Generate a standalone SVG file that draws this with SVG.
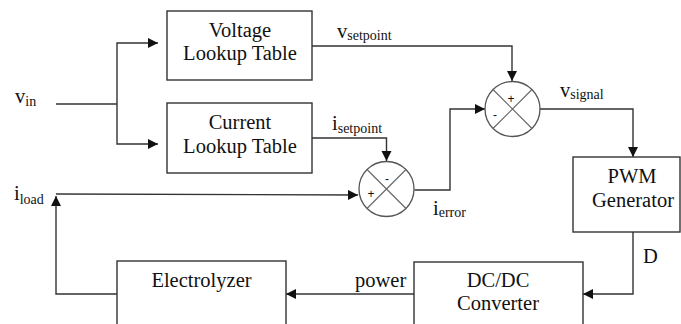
<svg xmlns="http://www.w3.org/2000/svg" width="681" height="324" viewBox="0 0 681 324">
<defs>
<marker id="arr" markerWidth="11" markerHeight="11" refX="10" refY="5" orient="auto" markerUnits="userSpaceOnUse">
<path d="M0,0 L10,5 L0,10 z" fill="#111"/>
</marker>
<style>
.box{fill:#fff;stroke:#333;stroke-width:1.4}
.sum{fill:#fff;stroke:#555;stroke-width:1.3}
.x{stroke:#666;stroke-width:1.1}
.c{fill:none;stroke:#333;stroke-width:1.4}
.c2{fill:none;stroke:#333;stroke-width:1.4;marker-end:url(#arr)}
text{font-family:"Liberation Serif","Times New Roman",serif;fill:#111}
.t{font-size:20.5px;text-anchor:middle}
.l{font-size:20.5px}
.s{font-size:14px}
.pm{font-size:12px;font-family:"Liberation Sans",Arial,sans-serif;text-anchor:middle}
</style>
</defs>
<rect width="681" height="324" fill="#fff"/>
<g id="connectors">
<path class="c" d="M56,104 H117"/>
<path class="c2" d="M117,104 V43 H158"/>
<path class="c2" d="M117,104 V144 H158"/>
<path class="c2" d="M312,46 H512 V81"/>
<path class="c2" d="M312,138 H386.5 V161"/>
<path class="c2" d="M414.5,190 H450 V109 H485"/>
<path class="c2" d="M540,109 H633 V157"/>
<path class="c2" d="M633,232 V294 H583"/>
<path class="c2" d="M414,294 H286"/>
<path class="c2" d="M117,294 H56 V196"/>
<path class="c2" d="M56,194 L358,195"/>
</g>
<g id="voltage_lut">
<rect class="box" x="167" y="11" width="145" height="69"/>
<text class="t" x="240" y="37">Voltage</text>
<text class="t" x="240" y="60">Lookup Table</text>
</g>
<g id="current_lut">
<rect class="box" x="167" y="103" width="145" height="70"/>
<text class="t" x="240" y="129">Current</text>
<text class="t" x="240" y="153">Lookup Table</text>
</g>
<g id="sum_v">
<circle class="sum" cx="512.5" cy="109" r="27.5"/>
<path class="x" d="M493,89.5 L532,128.5 M532,89.5 L493,128.5"/>
<text class="pm" x="511" y="103">+</text>
<text class="pm" x="495" y="119">-</text>
</g>
<g id="sum_i">
<circle class="sum" cx="386.5" cy="189" r="27.5"/>
<path class="x" d="M367,169.5 L406,208.5 M406,169.5 L367,208.5"/>
<text class="pm" x="387" y="183">-</text>
<text class="pm" x="371" y="198">+</text>
</g>
<g id="pwm">
<rect class="box" x="573" y="157" width="107" height="75"/>
<text class="t" x="632" y="183">PWM</text>
<text class="t" x="633" y="207">Generator</text>
</g>
<g id="dcdc">
<rect class="box" x="414" y="262" width="169" height="80"/>
<text class="t" x="498" y="287">DC/DC</text>
<text class="t" x="498" y="310">Converter</text>
</g>
<g id="electrolyzer">
<rect class="box" x="117" y="261" width="169" height="80"/>
<text class="t" x="201.5" y="287">Electrolyzer</text>
</g>
<g id="labels">
<text x="15" y="103"><tspan class="l">v</tspan><tspan class="s" dy="3">in</tspan></text>
<text x="337" y="38"><tspan class="l">v</tspan><tspan class="s" dy="2">setpoint</tspan></text>
<text x="332" y="130"><tspan class="l">i</tspan><tspan class="s" dy="3">setpoint</tspan></text>
<text x="560" y="97"><tspan class="l">v</tspan><tspan class="s" dy="2">signal</tspan></text>
<text x="433" y="215"><tspan class="l">i</tspan><tspan class="s" dy="2">error</tspan></text>
<text x="14" y="200"><tspan class="l">i</tspan><tspan class="s" dy="4">load</tspan></text>
<text class="l" x="643" y="263">D</text>
<text class="l" x="355" y="287">power</text>
</g>
</svg>
